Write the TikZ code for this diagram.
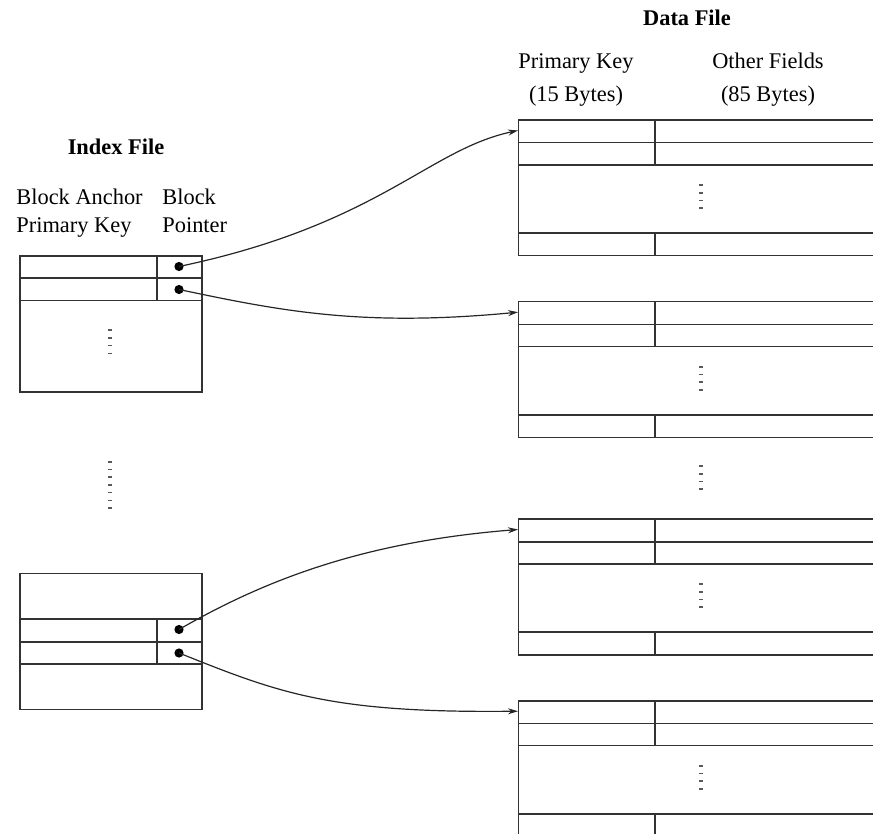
\documentclass[tikz,border=0pt]{standalone}
\usepackage{fontspec}
\setmainfont{Liberation Serif}
\usetikzlibrary{arrows.meta}

\tikzset{
  box/.style={line width=0.8pt, black!80},
  ptr/.style={circle, fill=black, inner sep=0pt, minimum size=4.6pt},
  link/.style={line width=0.6pt, black!85, -{Stealth[length=5pt,width=3pt]}},
  dotcol/.style={line width=2pt, black!65, dash pattern=on 0.8pt off 3.05pt},
  label/.style={inner sep=0pt, anchor=mid},
  lbl/.style={inner sep=0pt, anchor=mid west},
}

\begin{document}
\begin{tikzpicture}[x=0.5pt, y=-0.5pt, font=\fontsize{11.2}{13}\selectfont]
    \useasboundingbox (0,0) rectangle (873,834);
    \clip (0,0) rectangle (873,834);

    % Headings
    \node[label, font=\fontsize{11.2}{13}\selectfont\bfseries] (dtitle) at (687,21) {Data File};
    \node[label] (dkey) at (576,64) {Primary Key};
    \node[label] (dkeyb) at (576,97) {(15 Bytes)};
    \node[label] (doth) at (768,64) {Other Fields};
    \node[label] (dothb) at (768,97) {(85 Bytes)};
    \node[label, font=\fontsize{11.2}{13}\selectfont\bfseries] (ititle) at (116,150) {Index File};
    \node[lbl] (ianch) at (16,200) {Block Anchor};
    \node[lbl] (ikey) at (16,228) {Primary Key};
    \node[lbl] (iblk) at (162,200) {Block};
    \node[lbl] (iptr) at (162,228) {Pointer};

    % Data file blocks
    \foreach \t/\n in {120/1, 301.7/2, 519/3, 700.7/4} {
        \draw[box] (880,\t) -- (518.3,\t) -- (518.3,\t+135.7) -- (880,\t+135.7);
        \foreach \r in {22.7, 44.8, 113} \draw[box] (518.3,\t+\r) -- (880,\t+\r);
        \draw[box] (655,\t) -- (655,\t+44.8);
        \draw[box] (655,\t+113) -- (655,\t+135.7);
        \draw[dotcol] (701,\t+64.3) -- (701,\t+89);
        \coordinate (r\n) at (518,\t+10.5);
    }
    \draw[dotcol] (701,465.3) -- (701,490);

    % Index file blocks
    \draw[box] (20,256) rectangle (201.7,391.7);
    \foreach \r in {278.3, 300.7} \draw[box] (20,\r) -- (201.7,\r);
    \draw[box] (156.7,256) -- (156.7,300.7);
    \draw[dotcol] (110,329.5) -- (110,354.3);

    \draw[dotcol] (110,461) -- (110,509);

    \draw[box] (20,573.3) rectangle (201.7,709.3);
    \foreach \r in {619, 641.7, 664} \draw[box] (20,\r) -- (201.7,\r);
    \draw[box] (156.7,619) -- (156.7,664);

    % Pointers
    \node[ptr] (p1) at (179,266.5) {};
    \node[ptr] (p2) at (179,289.5) {};
    \node[ptr] (p3) at (179,629.5) {};
    \node[ptr] (p4) at (179,653) {};

    \draw[link] (p1.center) .. controls +(200,-42) and +(-90,19) .. (r1);
    \draw[link] (p2.center) .. controls +(100,21) and +(-158,15) .. (r2);
    \draw[link] (p3.center) .. controls +(90,-52) and +(-150,12) .. (r3);
    \draw[link] (p4.center) .. controls +(100,40) and +(-188,2) .. (r4);
\end{tikzpicture}
\end{document}
